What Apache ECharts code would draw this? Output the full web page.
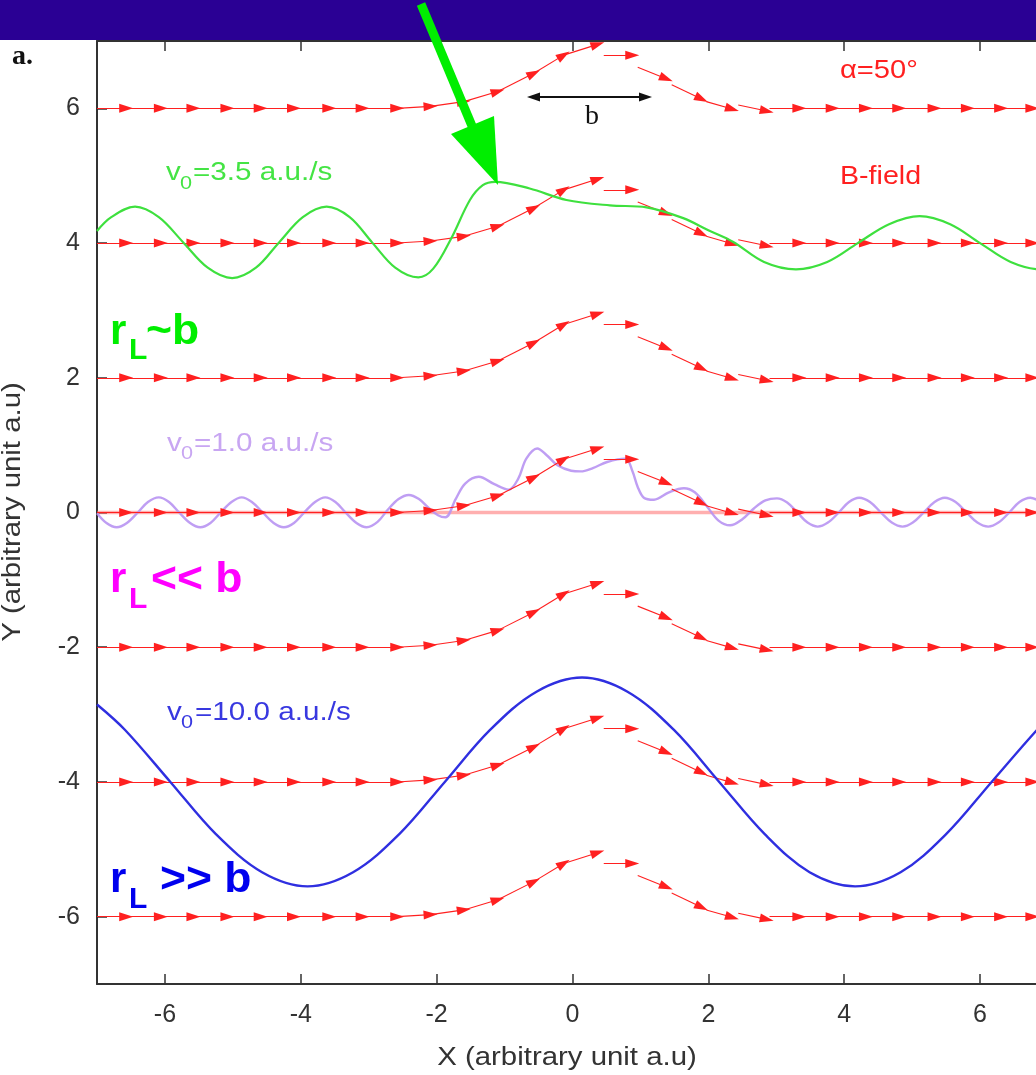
<!DOCTYPE html>
<html><head><meta charset="utf-8">
<script src="https://cdn.jsdelivr.net/npm/echarts@6/dist/echarts.min.js"></script>
<style>html,body{margin:0;padding:0;background:#fff}#c{width:1036px;height:1075px}</style>
</head><body><div id="c"></div>
<script>
// ---- data ----
const xTicks = [-6, -4, -2, 0, 2, 4, 6];
const yTicks = [-6, -4, -2, 0, 2, 4, 6];
// B-field lines: baseline offsets
const fieldLineY = [6, 4, 2, 0, -2, -4, -6];
// one field-line arrow set (quiver), relative to baseline
const arrowStartX  = [-7, -6.57, -6.06, -5.58, -5.08, -4.59, -4.10, -3.58, -3.09,
  -2.58, -2.09, -1.60, -1.10, -0.57, -0.13,
  0.46,
  0.96, 1.46, 1.97, 2.44,
  2.90, 3.34, 3.83, 4.32, 4.81, 5.33, 5.82, 6.31, 6.77];
const arrowStartDy = [0, 0, 0, 0, 0, 0, 0, 0, 0,
  0, 0.03, 0.10, 0.25, 0.52, 0.79,
  0.79,
  0.61, 0.35, 0.10, 0.05,
  0, 0, 0, 0, 0, 0, 0, 0, 0];
const arrowEndX    = [-6.57, -6.06, -5.58, -5.08, -4.59, -4.10, -3.58, -3.09, -2.58,
  -2.09, -1.60, -1.10, -0.57, -0.13, 0.37,
  0.88,
  1.38, 1.90, 2.35, 2.86,
  3.34, 3.83, 4.32, 4.81, 5.33, 5.82, 6.31, 6.77, 7.2];
const arrowEndDy   = [0, 0, 0, 0, 0, 0, 0, 0, 0,
  0.03, 0.10, 0.25, 0.52, 0.79, 0.95,
  0.79,
  0.44, 0.14, -0.01, -0.04,
  0, 0, 0, 0, 0, 0, 0, 0, 0];

// v0 = 3.5 trajectory (green)
const greenX = [-7.0, -6.79, -6.44, -6.09, -5.73, -5.37, -5.01, -4.66, -4.32, -3.97, -3.62, -3.28, -2.95, -2.61, -2.27,
  -2.05, -1.78, -1.51, -1.32, -1.14, -0.63, -0.09, 0.55, 1.09, 1.63, 2.0, 2.36, 2.82, 3.29, 3.75, 4.2, 4.66, 5.11, 5.56, 6.0, 6.45, 6.9, 7.0];
const greenY = [4.18, 4.385, 4.54, 4.385, 4.01, 3.635, 3.48, 3.635, 4.01, 4.385, 4.54, 4.385, 4.01, 3.635, 3.49,
  3.62, 4.08, 4.64, 4.86, 4.91, 4.81, 4.64, 4.56, 4.53, 4.37, 4.19, 4.02, 3.72, 3.61, 3.72, 4.0, 4.28, 4.40, 4.28, 4.0, 3.72, 3.61, 3.615];

// v0 = 1.0 trajectory (lavender)
const purpleX = [-7.0, -6.86, -6.71, -6.56, -6.40, -6.25, -6.09, -5.94, -5.79, -5.63, -5.48, -5.33, -5.18, -5.02, -4.87, -4.72, -4.56, -4.40, -4.25, -4.10, -3.95, -3.79, -3.64, -3.49, -3.34, -3.18, -3.03,
  -2.87, -2.72, -2.56, -2.41, -2.26, -2.12, -1.98, -1.87, -1.72, -1.58, -1.38, -1.15, -0.94, -0.80, -0.68, -0.52, -0.38, -0.22, -0.02, 0.12, 0.30, 0.51, 0.78, 0.88, 0.96, 1.05, 1.20, 1.42, 1.64, 1.80, 1.98, 2.15, 2.32, 2.50, 2.67, 2.84,
  3.01, 3.16, 3.31, 3.46, 3.61, 3.76, 3.92, 4.07, 4.22, 4.38, 4.54, 4.70, 4.86, 5.01, 5.17, 5.33, 5.48, 5.64, 5.80, 5.96, 6.12, 6.27, 6.43, 6.58, 6.74, 6.89, 7.0];
const purpleY = [-0.01, -0.156, -0.22, -0.156, 0, 0.156, 0.225, 0.156, 0, -0.156, -0.22, -0.156, 0, 0.156, 0.225, 0.156, 0, -0.156, -0.22, -0.156, 0, 0.156, 0.225, 0.156, 0, -0.156, -0.22,
  -0.14, 0.04, 0.20, 0.26, 0.20, 0.07, -0.04, -0.07, 0.20, 0.43, 0.53, 0.42, 0.34, 0.50, 0.80, 0.95, 0.85, 0.70, 0.62, 0.61, 0.66, 0.75, 0.80, 0.62, 0.38, 0.22, 0.19, 0.30, 0.36, 0.30, 0.09, -0.12, -0.19, -0.10, 0.06, 0.18,
  0.21, 0.15, 0, -0.15, -0.21, -0.15, 0, 0.156, 0.22, 0.156, 0, -0.15, -0.21, -0.15, 0, 0.156, 0.22, 0.156, 0, -0.15, -0.21, -0.15, 0, 0.156, 0.22, 0.156, 0.07];

// v0 = 10.0 trajectory (blue)
const blueX = [-7.0, -6.59, -5.92, -5.25, -4.57, -3.90, -3.23, -2.55, -1.88, -1.21, -0.53, 0.14, 0.81, 1.49, 2.16, 2.83, 3.49, 4.16, 4.83, 5.50, 6.17, 6.84, 7.0];
const blueY = [-2.85, -3.225, -4.0, -4.775, -5.34, -5.55, -5.34, -4.775, -4.0, -3.225, -2.66, -2.45, -2.66, -3.225, -4.0, -4.775, -5.34, -5.55, -5.34, -4.775, -4.0, -3.225, -3.08];

// ---- build ----
const zip = (xs, ys) => xs.map((x, i) => [x, ys[i]]);
const arrowData = [];
fieldLineY.forEach(y0 => {
  arrowStartX.forEach((sx, i) => {
    arrowData.push({coords: [[sx, y0 + arrowStartDy[i]], [arrowEndX[i], y0 + arrowEndDy[i]]]});
  });
});

const FONT = '"Liberation Sans", Arial, Helvetica, sans-serif';
const axisCommon = {
  type: 'value', min: -7, max: 7,
  axisLine: {show: true, onZero: false, lineStyle: {color: '#333', width: 2}},
  splitLine: {show: false}
};
const arrowPath = 'path://M0,0 M14,14 M7,0 L11.5,14 L2.5,14 Z';

function txt(x, y, text, font, fill, extra) {
  return Object.assign({type: 'text', x: x, y: y, z: 120,
    style: {text: text, font: font, fill: fill, align: 'left', verticalAlign: 'middle'}}, extra || {});
}

const chart = echarts.init(document.getElementById('c'), null, {renderer: 'canvas'});
const option = {
  animation: false,
  backgroundColor: '#ffffff',
  grid: {left: 97, right: -12, top: 41, bottom: 91, containLabel: false, outerBoundsMode: 'none'},
  xAxis: [
    Object.assign({}, axisCommon, {position: 'bottom',
      axisTick: {show: true, inside: true, length: 10, customValues: xTicks, lineStyle: {color: '#333', width: 1.5}},
      axisLabel: {show: true, customValues: xTicks, fontSize: 25, color: '#333', margin: 19, fontFamily: FONT}}),
    Object.assign({}, axisCommon, {position: 'top',
      axisTick: {show: true, inside: true, length: 10, customValues: xTicks, lineStyle: {color: '#333', width: 1.5}},
      axisLabel: {show: false}})
  ],
  yAxis: [
    Object.assign({}, axisCommon, {position: 'left',
      axisTick: {show: true, inside: true, length: 10, customValues: yTicks, lineStyle: {color: '#333', width: 1.5}},
      axisLabel: {show: true, customValues: yTicks, fontSize: 25, color: '#333', margin: 17, fontFamily: FONT}}),
    Object.assign({}, axisCommon, {position: 'right',
      axisTick: {show: true, inside: true, length: 10, customValues: yTicks, lineStyle: {color: '#333', width: 1.5}},
      axisLabel: {show: false}})
  ],
  series: [
    {type: 'line', data: [[-7, 0], [7, 0]], symbol: 'none', z: 1,
      lineStyle: {color: 'rgba(255,110,110,0.55)', width: 3.5}},
    {type: 'lines', coordinateSystem: 'cartesian2d', xAxisIndex: 0, yAxisIndex: 0, z: 3,
      symbol: ['none', arrowPath], symbolSize: 14,
      lineStyle: {color: '#ff2020', width: 1.1, opacity: 1, curveness: 0},
      data: arrowData},
    {type: 'line', data: zip(greenX, greenY), symbol: 'none', smooth: 0.35, z: 4,
      lineStyle: {color: '#3ee03e', width: 2.2}},
    {type: 'line', data: zip(purpleX, purpleY), symbol: 'none', smooth: 0.35, z: 2,
      lineStyle: {color: '#b894f2', width: 2.4, opacity: 0.9}},
    {type: 'line', data: zip(blueX, blueY), symbol: 'none', smooth: 0.35, z: 4,
      lineStyle: {color: '#2f2fe0', width: 2.4}}
  ],
  graphic: [
    {type: 'rect', shape: {x: 0, y: 0, width: 1036, height: 40}, style: {fill: '#2a0094'}, z: 100},
    // green pointer arrow
    {type: 'polyline', shape: {points: [[421, 4], [472, 126]]}, style: {stroke: '#00ee00', lineWidth: 9}, z: 110},
    {type: 'polygon', shape: {points: [[451, 134], [494, 116], [498, 185]]}, style: {fill: '#00ee00'}, z: 110},
    // b double arrow
    {type: 'polyline', shape: {points: [[534, 97], [645, 97]]}, style: {stroke: '#111', lineWidth: 2}, z: 110},
    {type: 'polygon', shape: {points: [[527, 97], [540, 92.5], [540, 101.5]]}, style: {fill: '#111'}, z: 110},
    {type: 'polygon', shape: {points: [[652, 97], [639, 92.5], [639, 101.5]]}, style: {fill: '#111'}, z: 110},
    txt(585, 117, 'b', '28px "Liberation Serif", "Times New Roman", serif', '#111'),
    txt(12, 57, 'a.', 'bold 28px "Liberation Serif", "Times New Roman", serif', '#111'),
    txt(840, 71, 'α=50°', '26px ' + FONT, '#ff2020', {scaleX: 1.12}),
    txt(840, 177, 'B-field', '26px ' + FONT, '#ff2020', {scaleX: 1.1}),
    // v0 labels
    txt(166, 173, 'v', '26px ' + FONT, '#44e444', {scaleX: 1.14}),
    txt(180, 184, '0', '19px ' + FONT, '#44e444', {scaleX: 1.14}),
    txt(193, 173, '=3.5 a.u./s', '26px ' + FONT, '#44e444', {scaleX: 1.14}),
    txt(167, 444, 'v', '26px ' + FONT, '#c8a6f2', {scaleX: 1.14}),
    txt(181, 454, '0', '19px ' + FONT, '#c8a6f2', {scaleX: 1.14}),
    txt(194, 444, '=1.0 a.u./s', '26px ' + FONT, '#c8a6f2', {scaleX: 1.14}),
    txt(167, 713, 'v', '26px ' + FONT, '#3838e0', {scaleX: 1.14}),
    txt(181, 723, '0', '19px ' + FONT, '#3838e0', {scaleX: 1.14}),
    txt(195, 713, '=10.0 a.u./s', '26px ' + FONT, '#3838e0', {scaleX: 1.14}),
    // regime labels
    txt(110, 332, 'r', 'bold 42px ' + FONT, '#00ee00'),
    txt(129, 351, 'L', 'bold 30px ' + FONT, '#00ee00'),
    txt(146, 332, '~b', 'bold 42px ' + FONT, '#00ee00', {scaleX: 1.06}),
    txt(110, 580, 'r', 'bold 42px ' + FONT, '#ff00ff'),
    txt(129, 600, 'L', 'bold 30px ' + FONT, '#ff00ff'),
    txt(151, 580, '<< b', 'bold 42px ' + FONT, '#ff00ff', {scaleX: 1.06}),
    txt(110, 880, 'r', 'bold 42px ' + FONT, '#0000ee'),
    txt(129, 900, 'L', 'bold 30px ' + FONT, '#0000ee'),
    txt(160, 880, '>> b', 'bold 42px ' + FONT, '#0000ee', {scaleX: 1.06}),
    // axis names
    {type: 'text', x: 567, y: 1058, z: 120, scaleX: 1.13,
      style: {text: 'X (arbitrary unit a.u)', font: '26px ' + FONT, fill: '#333', align: 'center', verticalAlign: 'middle'}},
    {type: 'text', x: 13, y: 512, z: 120, rotation: Math.PI / 2, scaleX: 1.13,
      style: {text: 'Y (arbitrary unit a.u)', font: '26px ' + FONT, fill: '#333', align: 'center', verticalAlign: 'middle'}}
  ]
};
chart.setOption(option);
</script>
</body></html>
